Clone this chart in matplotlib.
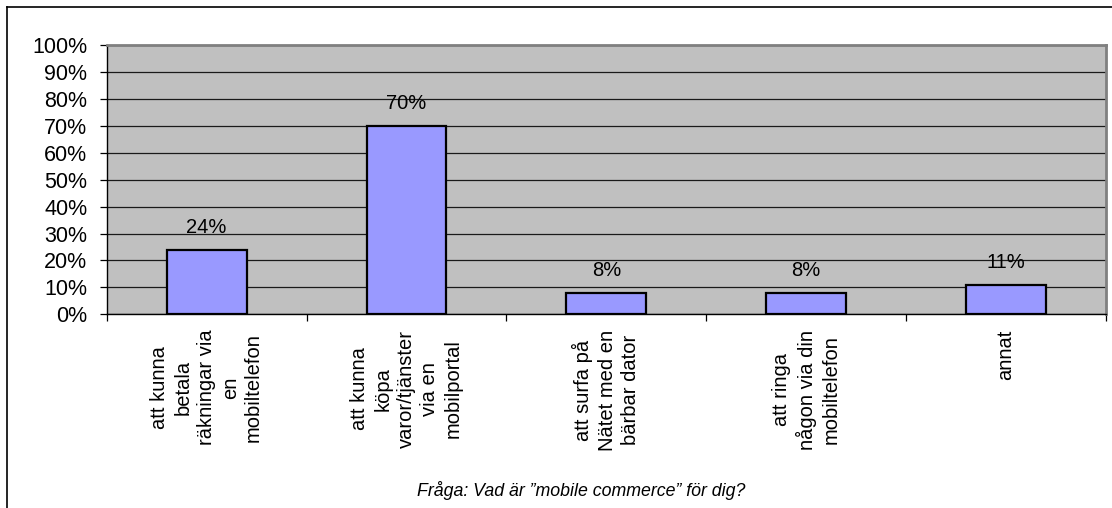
import matplotlib
matplotlib.use("Agg")
import matplotlib.pyplot as plt
from matplotlib.lines import Line2D

plt.rcParams['font.family'] = ['Liberation Sans', 'DejaVu Sans']

categories = ["att kunna\nbetala\nräkningar via\nen\nmobiltelefon",
              "att kunna\nköpa\nvaror/tjänster\nvia en\nmobilportal",
              "att surfa på\nNätet med en\nbärbar dator",
              "att ringa\nnågon via din\nmobiltelefon",
              "annat"]
values = [24, 70, 8, 8, 11]
yticks = [0, 10, 20, 30, 40, 50, 60, 70, 80, 90, 100]
caption = "Fråga: Vad är \u201dmobile commerce\u201d för dig?"

W, H = 1112, 508
fig = plt.figure(figsize=(W / 100, H / 100), dpi=100)
ax = fig.add_axes([106.7 / W, 1 - 314.3 / H, (1106 - 106.7) / W, (314.3 - 45) / H])
ax.set_facecolor('#C0C0C0')

x = list(range(len(values)))
ax.bar(x, values, width=0.4, color='#9999FF', edgecolor='black', linewidth=1.6, zorder=3)
for xi, v in zip(x, values):
    ax.annotate(f"{v}%", (xi, v), xytext=(0, 12), textcoords='offset points',
                ha='center', va='baseline', fontsize=14.5, zorder=4)

ax.set_xlim(-0.5, len(values) - 0.5)
ax.set_ylim(0, 100)
ax.set_yticks(yticks)
ax.set_yticklabels([f"{t}%" for t in yticks], fontsize=15.5)
ax.yaxis.grid(True, color='#1a1a1a', linewidth=0.9, zorder=1)
ax.set_axisbelow(True)

ax.set_xticks(x)
ax.set_xticklabels(categories, rotation=90, ha='center', va='top',
                   multialignment='center', fontsize=14.5, linespacing=1.3)
ax.tick_params(axis='x', length=0, pad=11)
# category boundary ticks
ax.set_xticks([i - 0.5 for i in range(len(values) + 1)], minor=True)
ax.tick_params(axis='x', which='minor', length=5, width=0.9, direction='out')
ax.tick_params(axis='y', length=5, width=0.9, direction='out', pad=9)

for s in ['top', 'right']:
    ax.spines[s].set_color('#808080')
    ax.spines[s].set_linewidth(2)
for s in ['left', 'bottom']:
    ax.spines[s].set_color('black')
    ax.spines[s].set_linewidth(1)

# outer chart frame (cut off at right and bottom)
fig.add_artist(Line2D([7 / W, 1], [1 - 7 / H, 1 - 7 / H], color='black', linewidth=1.2))
fig.add_artist(Line2D([7 / W, 7 / W], [0, 1 - 7 / H], color='black', linewidth=1.2))

fig.text(581 / W, 1 - 491 / H, caption, ha='center', va='center',
         fontsize=12.8, style='italic')

fig.savefig("out.png", dpi=100)
